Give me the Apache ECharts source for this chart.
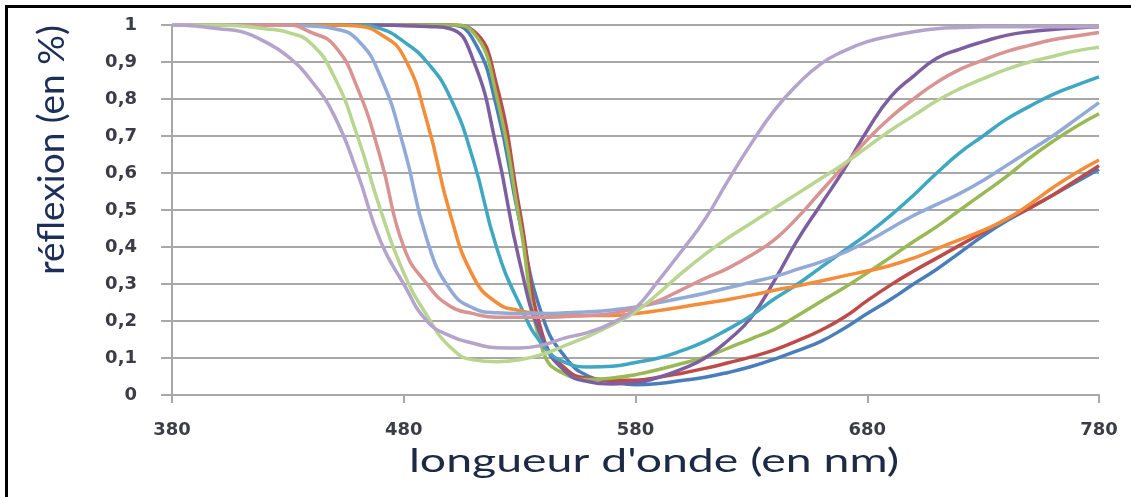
<!DOCTYPE html>
<html lang="fr">
<head>
    <meta charset="UTF-8">
    <title>réflexion (en %)</title>
    <script src="https://cdn.jsdelivr.net/npm/echarts@6/dist/echarts.min.js"></script>
    <style>
        body {
            margin: 0;
            padding: 0;
            background-color: #ffffff;
            overflow: hidden;
        }
        .frame {
            position: absolute;
            left: 5px;
            top: 5px;
            width: 1200px;
            height: 600px;
            border-left: 3px solid #000;
            border-top: 3px solid #000;
        }
        #chart {
            position: absolute;
            left: 0;
            top: 0;
            width: 1131px;
            height: 497px;
        }
    </style>
</head>
<body>
<div class="frame"></div>
<div id="chart"></div>

<script>
    // longueurs d'onde (nm)
    const wavelengths = [380, 390, 400, 410, 420, 430, 440, 450, 460, 470, 480, 490, 500,
        510, 520, 530, 540, 550, 560, 570,
        580, 590, 600, 610, 620, 630, 640, 650, 660, 670, 680, 690, 700, 710, 720, 730, 740, 750, 760, 770, 780];

    // courbes de réflexion
    const blue = [1, 1, 1, 1, 1, 1, 1, 1, 1, 1, 1, 1, 1,
        0.96, 0.78, 0.47, 0.21, 0.10, 0.05, 0.036,
        0.028, 0.031, 0.039, 0.048, 0.061, 0.077, 0.097, 0.12, 0.145, 0.18, 0.22, 0.258, 0.30, 0.34, 0.385, 0.43, 0.47, 0.505, 0.54, 0.575, 0.61];
    const red = [1, 1, 1, 1, 1, 1, 1, 1, 1, 1, 1, 1, 1,
        0.985, 0.84, 0.50, 0.16, 0.07, 0.045, 0.04,
        0.04, 0.048, 0.059, 0.072, 0.087, 0.103, 0.122, 0.147, 0.175, 0.21, 0.255, 0.297, 0.335, 0.37, 0.405, 0.44, 0.475, 0.505, 0.54, 0.58, 0.62];
    const green = [1, 1, 1, 1, 1, 1, 1, 1, 1, 1, 1, 1, 1,
        0.98, 0.81, 0.47, 0.12, 0.055, 0.042, 0.046,
        0.055, 0.069, 0.085, 0.102, 0.127, 0.152, 0.178, 0.215, 0.253, 0.29, 0.33, 0.372, 0.415, 0.455, 0.50, 0.545, 0.59, 0.64, 0.685, 0.725, 0.76];
    const purple = [1, 1, 1, 1, 1, 1, 1, 1, 1, 1, 0.998, 0.996, 0.99,
        0.905, 0.67, 0.36, 0.15, 0.062, 0.036, 0.03,
        0.033, 0.048, 0.07, 0.10, 0.148, 0.21, 0.31, 0.42, 0.515, 0.61, 0.715, 0.805, 0.862, 0.91, 0.935, 0.955, 0.972, 0.982, 0.988, 0.992, 0.995];
    const teal = [1, 1, 1, 1, 1, 1, 1, 1, 1, 0.99, 0.955, 0.90, 0.805,
        0.635, 0.40, 0.245, 0.135, 0.087, 0.076, 0.078,
        0.088, 0.10, 0.12, 0.145, 0.178, 0.215, 0.26, 0.30, 0.345, 0.39, 0.435, 0.485, 0.54, 0.60, 0.655, 0.70, 0.745, 0.78, 0.812, 0.837, 0.86];
    const orange = [1, 1, 1, 1, 1, 1, 1, 1, 0.997, 0.975, 0.915, 0.74, 0.49,
        0.32, 0.25, 0.228, 0.22, 0.215, 0.215, 0.215,
        0.22, 0.228, 0.238, 0.248, 0.258, 0.27, 0.283, 0.295, 0.308, 0.322, 0.335, 0.35, 0.37, 0.395, 0.42, 0.445, 0.475, 0.515, 0.56, 0.60, 0.635];
    const lightBlue = [1, 1, 1, 1, 1, 1, 0.997, 0.99, 0.96, 0.86, 0.67, 0.42, 0.285,
        0.235, 0.222, 0.22, 0.22, 0.222, 0.225, 0.23,
        0.238, 0.25, 0.262, 0.275, 0.29, 0.305, 0.32, 0.34, 0.36, 0.385, 0.415, 0.45, 0.485, 0.515, 0.545, 0.58, 0.62, 0.66, 0.70, 0.745, 0.79];
    const pink = [1, 1, 1, 1, 1, 1, 0.98, 0.945, 0.83, 0.64, 0.40, 0.30, 0.24,
        0.22, 0.21, 0.21, 0.21, 0.212, 0.215, 0.22,
        0.235, 0.255, 0.285, 0.315, 0.343, 0.378, 0.42, 0.48, 0.55, 0.62, 0.69, 0.75, 0.80, 0.845, 0.88, 0.905, 0.928, 0.945, 0.96, 0.97, 0.98];
    const lightGreen = [1, 1, 1, 0.997, 0.99, 0.98, 0.95, 0.86, 0.70, 0.50, 0.33, 0.215, 0.13,
        0.095, 0.09, 0.095, 0.11, 0.135, 0.16, 0.19,
        0.225, 0.275, 0.33, 0.38, 0.425, 0.465, 0.505, 0.545, 0.585, 0.625, 0.67, 0.715, 0.755, 0.795, 0.828, 0.855, 0.88, 0.90, 0.915, 0.93, 0.94];
    const lightPurple = [1, 0.997, 0.99, 0.982, 0.955, 0.915, 0.85, 0.755, 0.60, 0.415, 0.30, 0.20, 0.16,
        0.14, 0.128, 0.127, 0.135, 0.155, 0.17, 0.195,
        0.235, 0.31, 0.39, 0.475, 0.58, 0.68, 0.77, 0.84, 0.895, 0.93, 0.955, 0.97, 0.982, 0.99, 0.993, 0.995, 0.995, 0.995, 0.995, 0.995, 0.995];

    const curves = [blue, red, green, purple, teal, orange, lightBlue, pink, lightGreen, lightPurple];
    const colors = ['#4a7ebb', '#be4b48', '#98b954', '#7d5fa0', '#3fa7c2', '#f38d3a',
        '#92aad8', '#d99391', '#b8d68f', '#b4a3ca'];

    const chart = echarts.init(document.getElementById('chart'));

    const gray = '#a8a8a8';
    const labelStyle = {
        fontFamily: 'DejaVu Sans',
        fontWeight: 'bold',
        fontSize: 18,
        color: '#3c3c46'
    };

    chart.setOption({
        animation: false,
        grid: { left: 172, right: 32, top: 25, bottom: 102 },
        xAxis: {
            type: 'value',
            min: 380,
            max: 780,
            interval: 100,
            axisLine: { show: true, lineStyle: { color: gray, width: 2 } },
            axisTick: { show: true, length: 8, lineStyle: { color: gray, width: 2 } },
            axisLabel: Object.assign({ margin: 26 }, labelStyle),
            splitLine: { show: false }
        },
        yAxis: {
            type: 'value',
            min: 0,
            max: 1,
            interval: 0.1,
            axisLine: { show: true, lineStyle: { color: gray, width: 2 } },
            axisTick: { show: true, length: 11, lineStyle: { color: gray, width: 2 } },
            axisLabel: Object.assign({
                margin: 35,
                formatter: v => String(Math.round(v * 10) / 10).replace('.', ',')
            }, labelStyle),
            splitLine: { show: true, lineStyle: { color: gray, width: 2 } }
        },
        graphic: [
            {
                type: 'text',
                x: 654,
                y: 462,
                scaleX: 1.45,
                style: {
                    text: "longueur d'onde (en nm)",
                    x: 0, y: 0,
                    align: 'center',
                    verticalAlign: 'middle',
                    font: '32px Lato',
                    fill: '#1d2a45'
                }
            },
            {
                type: 'text',
                x: 52,
                y: 150,
                rotation: Math.PI / 2,
                style: {
                    text: 'réflexion (en %)',
                    x: 0, y: 0,
                    align: 'center',
                    verticalAlign: 'middle',
                    font: '37px Lato',
                    fill: '#1d2f58'
                }
            }
        ],
        series: curves.map((vals, i) => ({
            type: 'line',
            data: wavelengths.map((w, k) => [w, vals[k]]),
            showSymbol: false,
            smooth: 0.5,
            lineStyle: { color: colors[i], width: 3.5 },
            itemStyle: { color: colors[i] },
            z: 2 + i
        }))
    });
</script>
</body>
</html>
